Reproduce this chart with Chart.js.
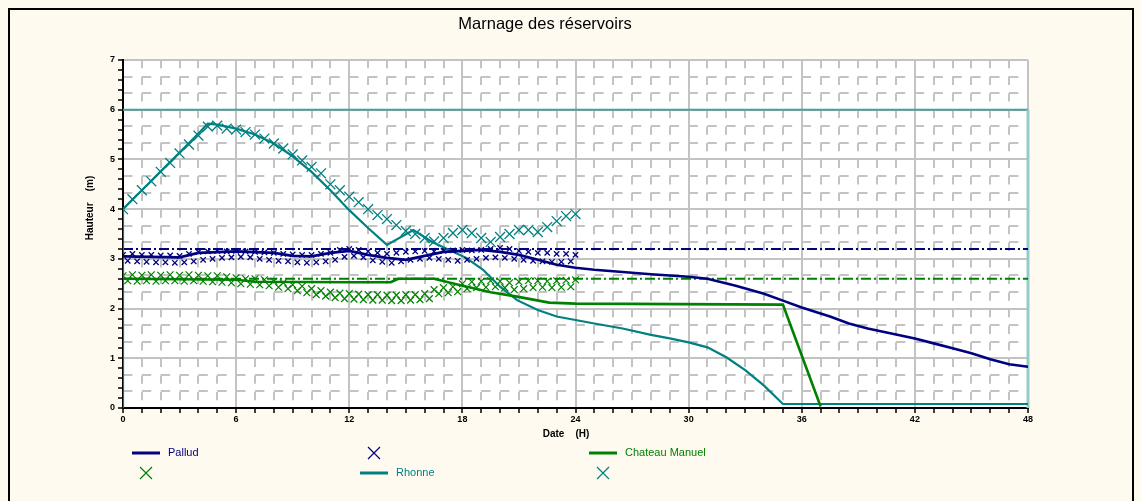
<!DOCTYPE html>
<html>
<head>
<meta charset="utf-8">
<title>Marnage des réservoirs</title>
<script src="https://cdn.jsdelivr.net/npm/chart.js@4"></script>
<style>
  html, body { margin: 0; padding: 0; background: #fffaf0; }
  #wrap { width: 1141px; height: 501px; }
</style>
</head>
<body>
<div id="wrap"><canvas id="marnage"></canvas></div>
<script>
"use strict";

// Hauteurs simulées (courbes) ---------------------------------
const palludHours = [0, 3, 4, 6, 8, 9, 10, 11, 12, 13, 14, 15, 16, 17, 18, 19, 20, 21, 22, 23,
  24, 25, 27, 28, 30, 31, 32.5, 34, 35, 36, 37.5, 38.5, 39.5, 41, 42, 43, 44, 45, 46, 47, 48];
const palludLevels = [3.05, 3.03, 3.12, 3.15, 3.12, 3.06, 3.05, 3.12, 3.16, 3.08, 3.02, 2.98, 3.06, 3.14, 3.16, 3.18, 3.14, 3.08, 2.98, 2.88,
  2.82, 2.78, 2.72, 2.69, 2.64, 2.6, 2.46, 2.3, 2.16, 2.02, 1.84, 1.7, 1.6, 1.48, 1.4, 1.3, 1.2, 1.1, 0.98, 0.88, 0.83];

const chateauHours = [0, 6, 7, 12, 14.2, 14.6, 16.5, 17.9, 19.5, 20.9, 22.6, 24, 35, 37];
const chateauLevels = [2.6, 2.58, 2.54, 2.53, 2.53, 2.6, 2.6, 2.47, 2.33, 2.24, 2.12, 2.1, 2.08, 0.03];

const rhonneHours = [0, 0, 1, 2, 3, 4, 4.5, 5, 6, 7, 8, 9, 10, 11, 12, 13, 14, 15.4, 16.4, 17.3,
  18.2, 19.1, 20, 20.9, 22, 23, 24, 25, 26.5, 28, 29, 30, 31, 32, 33, 34, 35, 48];
const rhonneLevels = [0, 4.0, 4.38, 4.76, 5.14, 5.52, 5.72, 5.7, 5.62, 5.5, 5.32, 5.06, 4.75, 4.38, 3.98, 3.62, 3.28, 3.58, 3.34, 3.18,
  3.02, 2.78, 2.44, 2.17, 1.97, 1.84, 1.77, 1.7, 1.6, 1.47, 1.4, 1.32, 1.22, 1.02, 0.76, 0.45, 0.08, 0.08];

// Relevés mesurés (croix), pas de temps fixe ------------------
const palludObsStep = 0.25;
const palludObs = [
  3.08, 2.96, 3.10, 2.95, 3.08, 2.94, 3.08, 2.93,
  3.07, 2.93, 3.07, 2.92, 3.06, 2.93, 3.10, 2.95,
  3.14, 2.98, 3.15, 3.00, 3.16, 3.02, 3.15, 3.03,
  3.16, 3.04, 3.15, 3.03, 3.14, 3.00, 3.13, 2.98,
  3.12, 2.96, 3.10, 2.95, 3.09, 2.93, 3.08, 2.92,
  3.08, 2.93, 3.10, 2.95, 3.12, 2.98, 3.18, 3.04,
  3.20, 3.06, 3.18, 3.03, 3.15, 2.97, 3.12, 2.94,
  3.10, 2.92, 3.12, 2.95, 3.14, 2.98, 3.15, 3.00,
  3.16, 3.02, 3.15, 3.00, 3.16, 2.98, 3.17, 2.96,
  3.18, 2.98, 3.17, 3.00, 3.18, 3.02, 3.20, 3.03,
  3.22, 3.02, 3.20, 3.00, 3.16, 2.98, 3.14, 2.96,
  3.12, 2.95, 3.12, 2.94, 3.10, 2.94, 3.10, 2.95,
  3.08];

const chateauObsStep = 0.25;
const chateauObs = [
  2.66, 2.56, 2.68, 2.55, 2.67, 2.56, 2.68, 2.55,
  2.67, 2.56, 2.68, 2.56, 2.67, 2.55, 2.68, 2.56,
  2.67, 2.55, 2.66, 2.54, 2.66, 2.53, 2.64, 2.52,
  2.62, 2.50, 2.60, 2.49, 2.60, 2.48, 2.58, 2.46,
  2.55, 2.43, 2.52, 2.40, 2.48, 2.36, 2.45, 2.32,
  2.40, 2.28, 2.36, 2.25, 2.33, 2.22, 2.31, 2.20,
  2.30, 2.19, 2.29, 2.18, 2.28, 2.17, 2.28, 2.17,
  2.27, 2.16, 2.27, 2.16, 2.28, 2.17, 2.28, 2.18,
  2.30, 2.20, 2.38, 2.30, 2.42, 2.32, 2.44, 2.34,
  2.50, 2.40, 2.54, 2.42, 2.55, 2.43, 2.56, 2.44,
  2.55, 2.42, 2.52, 2.38, 2.54, 2.40, 2.56, 2.42,
  2.56, 2.43, 2.55, 2.42, 2.56, 2.43, 2.57, 2.44,
  2.58];

const rhonneObsStep = 0.5;
const rhonneObs = [
  4.00, 4.20, 4.38, 4.56, 4.75, 4.93, 5.12, 5.30, 5.48, 5.66,
  5.68, 5.62, 5.60, 5.55, 5.50, 5.42, 5.32, 5.22, 5.10, 4.98,
  4.85, 4.72, 4.50, 4.38, 4.25, 4.14, 4.00, 3.88, 3.80, 3.68,
  3.56, 3.50, 3.42, 3.35, 3.42, 3.52, 3.58, 3.52, 3.42, 3.34,
  3.44, 3.50, 3.58, 3.58, 3.54, 3.64, 3.76, 3.86, 3.90];

// Cotes maximales
const palludMax = 3.2;
const chateauMax = 2.6;
const rhonneMax = 6;

// Axes
const hourRange = [0, 48];
const levelRange = [0, 7];

const NAVY = "#000080";
const GREEN = "#008000";
const TEAL = "#008080";
const GRID = "#c3c3c3";
const FONT = "'Liberation Sans', Arial, sans-serif";

function toPoints(hours, levels) {
  return hours.map(function (h, i) {
    return { x: h, y: levels[i] };
  });
}

function obsPoints(step, levels) {
  return levels.map(function (v, i) {
    return { x: i * step, y: v };
  });
}

function lineSet(label, data, color, width) {
  return {
    label: label,
    data: data,
    showLine: true,
    borderColor: color,
    backgroundColor: color,
    borderWidth: width,
    pointRadius: 0,
    tension: 0,
  };
}

function crossSet(data, color, radius, width) {
  return {
    label: "",
    data: data,
    showLine: false,
    pointStyle: "crossRot",
    pointRadius: radius,
    pointBorderWidth: width,
    borderColor: color,
    backgroundColor: color,
  };
}

function limitSet(level, color, dash) {
  const ds = lineSet("", toPoints(hourRange, [level, level]), color, 2);
  ds.borderDash = dash;
  ds.noLegend = true;
  return ds;
}

// Fond, cadre, titres et légende dessinés autour du graphique
const decor = {
  id: "decor",
  beforeDraw(chart) {
    const { ctx, chartArea: a, width, height } = chart;
    ctx.save();
    ctx.fillStyle = "#fffaf0";
    ctx.fillRect(0, 0, width, height);
    ctx.fillStyle = "#ffffff";
    ctx.fillRect(a.left, a.top, a.right - a.left, a.bottom - a.top);
    ctx.strokeStyle = "#000";
    ctx.lineWidth = 2;
    ctx.strokeRect(9, 9, width - 17, height + 10);
    ctx.restore();
  },
  afterDraw(chart) {
    const ctx = chart.ctx;
    ctx.save();
    ctx.fillStyle = "#000";
    ctx.textBaseline = "middle";
    ctx.textAlign = "center";
    ctx.font = "16.5px " + FONT;
    ctx.fillText("Marnage des réservoirs", 545, 24);

    ctx.font = "bold 10px " + FONT;
    ctx.fillText("Date    (H)", 566, 434);
    ctx.save();
    ctx.translate(90, 208);
    ctx.rotate(-Math.PI / 2);
    ctx.fillText("Hauteur    (m)", 0, 0);
    ctx.restore();

    // légende sur 3 colonnes
    const cols = [132, 360, 589];
    const rows = [453, 473];
    ctx.textAlign = "left";
    ctx.font = "11px " + FONT;
    let n = 0;
    chart.data.datasets.forEach(function (ds) {
      if (ds.noLegend) return;
      const x0 = cols[n % 3];
      const y = rows[Math.floor(n / 3)];
      n++;
      ctx.strokeStyle = ds.borderColor;
      ctx.beginPath();
      if (ds.showLine) {
        ctx.lineWidth = 3;
        ctx.moveTo(x0, y);
        ctx.lineTo(x0 + 28, y);
        ctx.stroke();
        ctx.fillStyle = ds.borderColor;
        ctx.fillText(ds.label, x0 + 36, y);
      } else {
        const c = x0 + 14;
        ctx.lineWidth = 1.2;
        ctx.moveTo(c - 6, y - 6);
        ctx.lineTo(c + 6, y + 6);
        ctx.moveTo(c + 6, y - 6);
        ctx.lineTo(c - 6, y + 6);
        ctx.stroke();
      }
    });
    ctx.restore();
  },
};

const tickFont = { family: FONT, size: 9, weight: "bold" };

const rhonneBound = lineSet("", toPoints([0, 48, 48], [rhonneMax, rhonneMax, 0]), "#4b9d9d", 2);
rhonneBound.noLegend = true;
rhonneBound.clip = false;
rhonneBound.segment = {
  borderColor: (c) => (c.p0.parsed.x === c.p1.parsed.x ? "#93cdca" : "#4b9d9d"),
  borderWidth: (c) => (c.p0.parsed.x === c.p1.parsed.x ? 3 : 2),
};

new Chart(document.getElementById("marnage"), {
  type: "scatter",
  data: {
    datasets: [
      lineSet("Pallud", toPoints(palludHours, palludLevels), NAVY, 2.6),
      crossSet(obsPoints(palludObsStep, palludObs), NAVY, 3.8, 1.3),
      lineSet("Chateau Manuel", toPoints(chateauHours, chateauLevels), GREEN, 2.6),
      crossSet(obsPoints(chateauObsStep, chateauObs), GREEN, 4.8, 1.2),
      lineSet("Rhonne", toPoints(rhonneHours, rhonneLevels), TEAL, 2.2),
      crossSet(obsPoints(rhonneObsStep, rhonneObs), TEAL, 7, 1.3),
      limitSet(palludMax, NAVY, [10, 3, 2, 3]),
      limitSet(chateauMax, GREEN, [10, 3, 2, 3]),
      rhonneBound,
    ],
  },
  options: {
    responsive: true,
    maintainAspectRatio: false,
    animation: false,
    layout: { padding: { left: 0, right: 113, top: 60, bottom: 73 } },
    scales: {
      x: {
        type: "linear",
        min: hourRange[0],
        max: hourRange[1],
        afterFit(scale) {
          scale.height = 20;
        },
        border: { color: "#000", width: 2 },
        grid: {
          color: (c) => (c.index % 6 === 0 ? GRID : "transparent"),
          lineWidth: 2,
          tickColor: "#000",
          tickLength: 5,
          tickWidth: 1.5,
        },
        ticks: {
          stepSize: 1,
          autoSkip: false,
          maxRotation: 0,
          padding: 1,
          color: "#000",
          font: tickFont,
          callback: (v, i) => (i % 6 === 0 ? String(Math.round(v)) : ""),
        },
      },
      y: {
        type: "linear",
        min: levelRange[0],
        max: levelRange[1],
        afterFit(scale) {
          scale.width = 123;
        },
        border: { color: "#000", width: 2 },
        grid: {
          color: (c) => (c.index % 5 === 0 ? GRID : "transparent"),
          lineWidth: 2,
          tickColor: "#000",
          tickLength: 5,
          tickWidth: 1.5,
        },
        ticks: {
          stepSize: 0.2,
          autoSkip: false,
          padding: 3,
          color: "#000",
          font: tickFont,
          callback: (v, i) => (i % 5 === 0 ? String(Math.round(v)) : ""),
        },
      },
      // quadrillage secondaire en tirets
      xMinor: {
        type: "linear",
        position: "bottom",
        min: hourRange[0],
        max: hourRange[1],
        afterFit(scale) {
          scale.height = 0;
        },
        border: { display: false, dash: [8.3, 8.3] },
        grid: {
          color: (c) => (c.index % 6 === 0 ? "transparent" : GRID),
          lineWidth: 2,
          drawTicks: false,
        },
        ticks: { display: false, stepSize: 1 },
      },
      yMinor: {
        type: "linear",
        position: "left",
        min: levelRange[0],
        max: levelRange[1],
        afterFit(scale) {
          scale.width = 0;
        },
        border: { display: false, dash: [9.4, 9.45] },
        grid: {
          color: (c) => (c.index % 3 === 0 ? "transparent" : GRID),
          lineWidth: 2,
          drawTicks: false,
        },
        ticks: { display: false, stepSize: 1 / 3 },
      },
    },
    plugins: {
      legend: { display: false },
      title: { display: false },
      tooltip: { enabled: false },
    },
  },
  plugins: [decor],
});
</script>
</body>
</html>
